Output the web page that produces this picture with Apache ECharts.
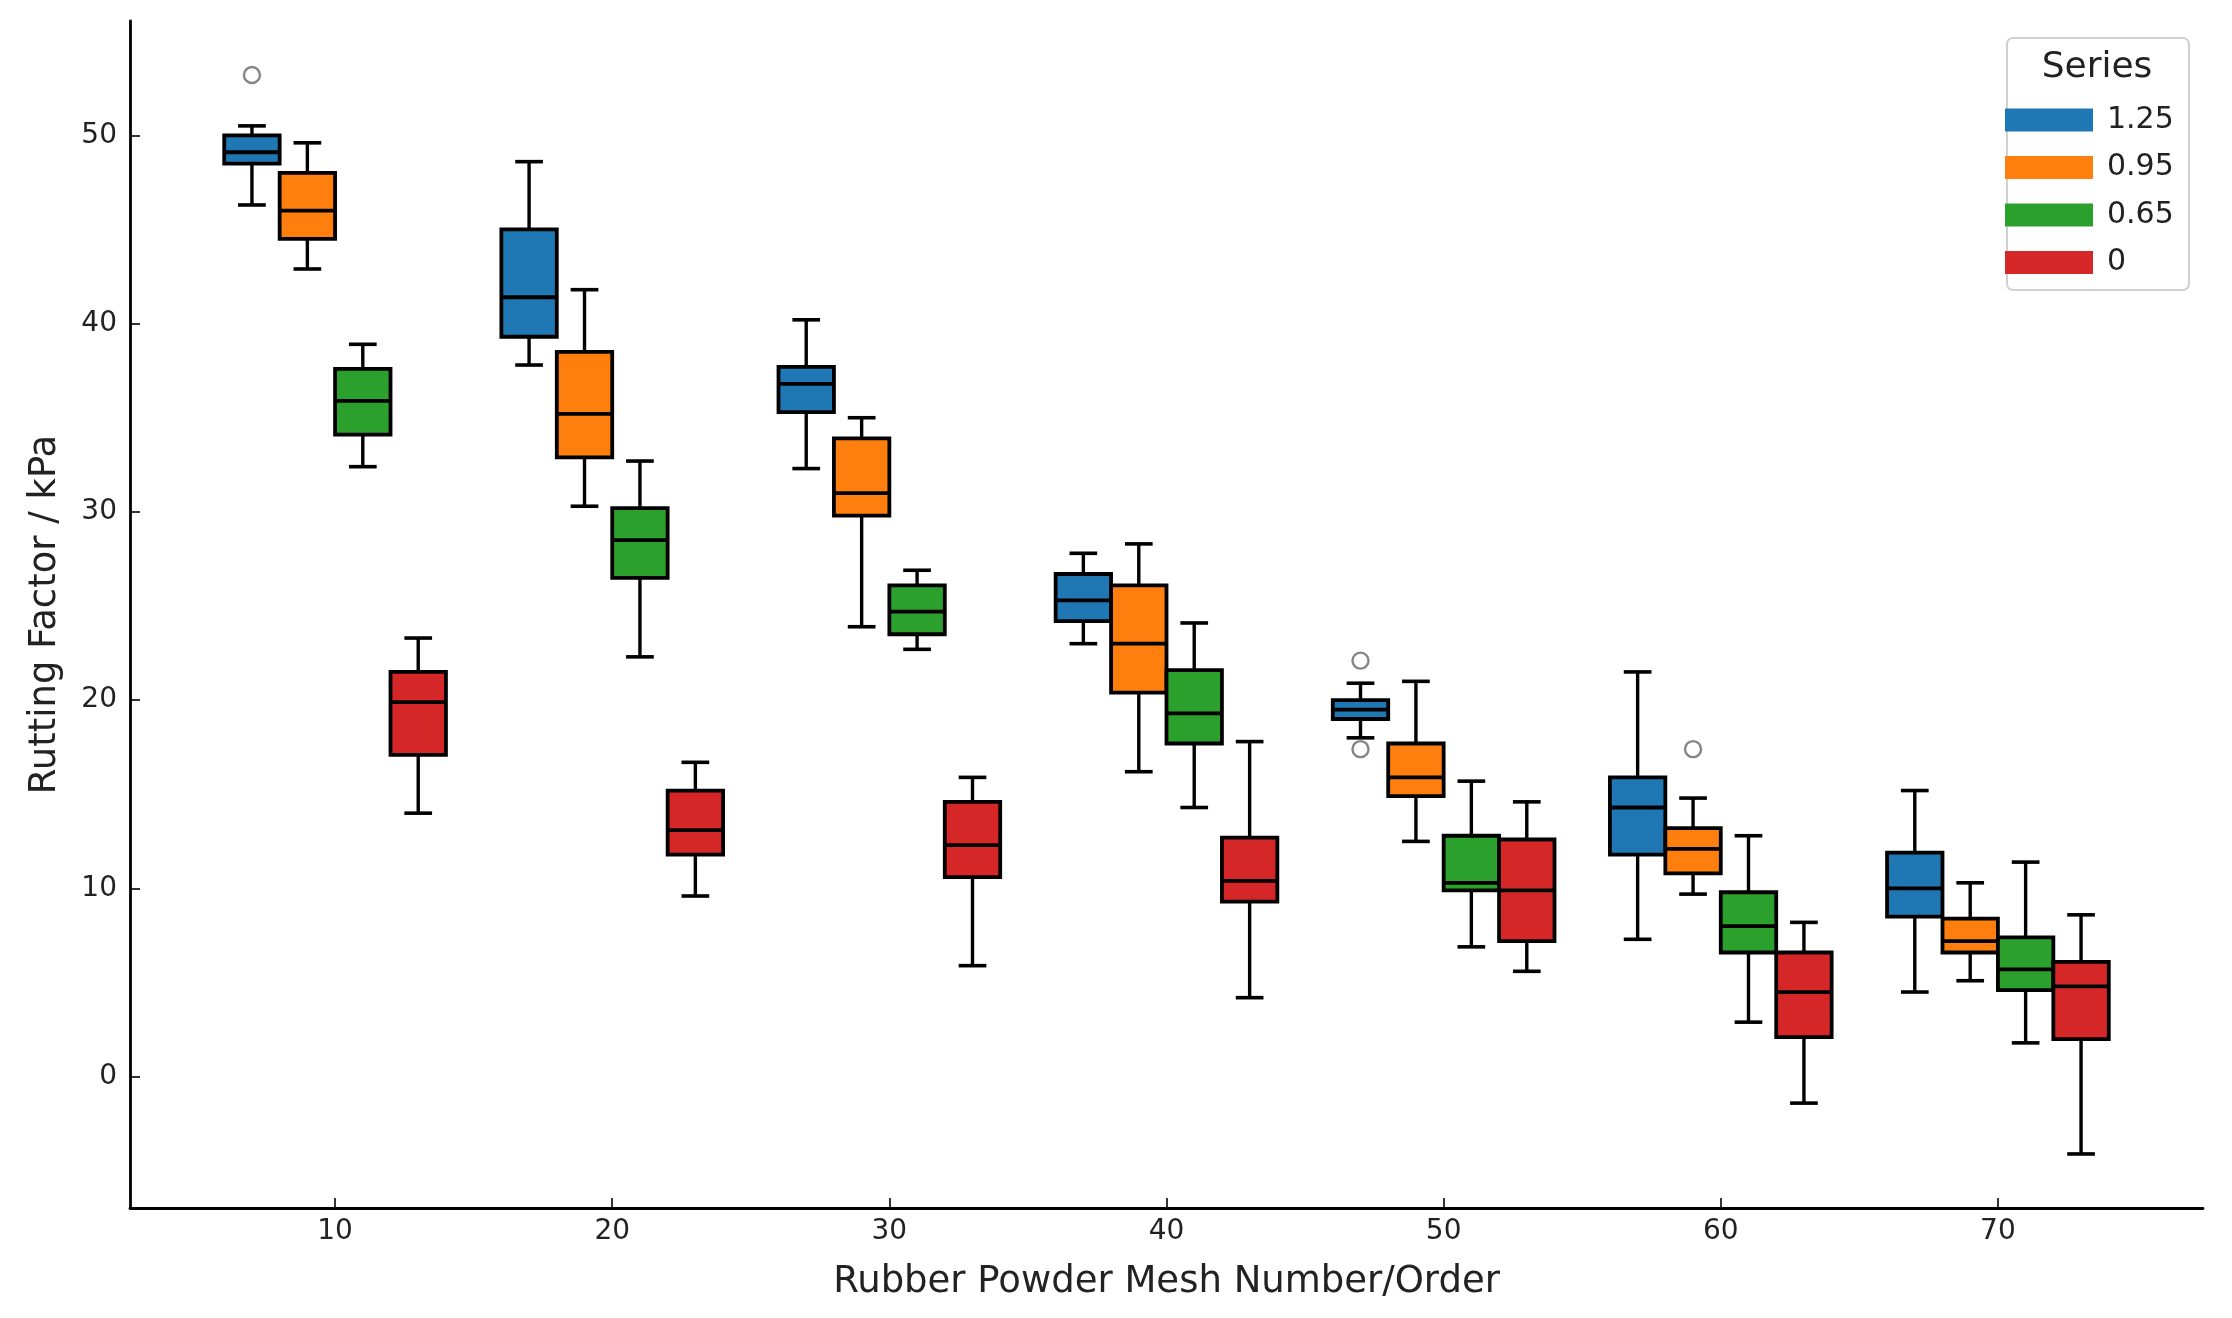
<!DOCTYPE html>
<html>
<head>
<meta charset="utf-8">
<script src="https://cdn.jsdelivr.net/npm/echarts@6/dist/echarts.min.js"></script>
<style>
html,body{margin:0;padding:0;background:#fff;}
#chart{width:2232px;height:1318px;}
</style>
</head>
<body>
<div id="chart"></div>
<script>
// ---- data ----
const groups = [10, 20, 30, 40, 50, 60, 70];
const seriesNames = ['1.25', '0.95', '0.65', '0'];
const xTicks = [10, 20, 30, 40, 50, 60, 70];
const yTicks = [0, 10, 20, 30, 40, 50];
// each row: [lower whisker, Q1, median, Q3, upper whisker]
const stats125 = [[46.3,48.5,49.1,50.0,50.5],[37.8,39.3,41.4,45.0,48.6],[32.3,35.3,36.8,37.7,40.2],[23.0,24.2,25.3,26.7,27.8],[18.0,19.0,19.5,20.0,20.9],[7.3,11.8,14.3,15.9,21.5],[4.5,8.5,10.0,11.9,15.2]];
const stats095 = [[42.9,44.5,46.0,48.0,49.6],[30.3,32.9,35.2,38.5,41.8],[23.9,29.8,31.0,33.9,35.0],[16.2,20.4,23.0,26.1,28.3],[12.5,14.9,15.9,17.7,21.0],[9.7,10.8,12.1,13.2,14.8],[5.1,6.6,7.2,8.4,10.3]];
const stats065 = [[32.4,34.1,35.9,37.6,38.9],[22.3,26.5,28.5,30.2,32.7],[22.7,23.5,24.7,26.1,26.9],[14.3,17.7,19.3,21.6,24.1],[6.9,9.9,10.3,12.8,15.7],[2.9,6.6,8.0,9.8,12.8],[1.8,4.6,5.7,7.4,11.4]];
const stats0 = [[14.0,17.1,19.9,21.5,23.3],[9.6,11.8,13.1,15.2,16.7],[5.9,10.6,12.3,14.6,15.9],[4.2,9.3,10.4,12.7,17.8],[5.6,7.2,9.9,12.6,14.6],[-1.4,2.1,4.5,6.6,8.2],[-4.1,2.0,4.8,6.1,8.6]];
// outliers: [group, value]
const outliers125 = [[10, 53.2], [50, 22.1], [50, 17.4]];
const outliers095 = [[60, 17.4]];
const outliers065 = [];
const outliers0 = [];

// ---- layout / style ----
const colors = ['#1f77b4', '#ff7f0e', '#2ca02c', '#d62728'];
const offsets = [-3, -1, 1, 3];
const BOX_HALF = 1.0;
const CAP_HALF = 0.5;
const allStats = [stats125, stats095, stats065, stats0];
const allOutliers = [outliers125, outliers095, outliers065, outliers0];
const FONT = 'DejaVu Sans';

function renderBox(params, api) {
  const x = api.value(0);
  const lo = api.value(1), q1 = api.value(2), med = api.value(3), q3 = api.value(4), hi = api.value(5);
  const color = api.visual('color');
  const line = (a, b, w) => ({
    type: 'line',
    shape: { x1: a[0], y1: a[1], x2: b[0], y2: b[1] },
    style: { stroke: '#000', lineWidth: w }
  });
  const tl = api.coord([x - BOX_HALF, q3]);
  const br = api.coord([x + BOX_HALF, q1]);
  return {
    type: 'group',
    children: [
      line(api.coord([x, hi]), api.coord([x, q3]), 3.4),
      line(api.coord([x, lo]), api.coord([x, q1]), 3.4),
      line(api.coord([x - CAP_HALF, hi]), api.coord([x + CAP_HALF, hi]), 3.6),
      line(api.coord([x - CAP_HALF, lo]), api.coord([x + CAP_HALF, lo]), 3.6),
      {
        type: 'rect',
        shape: { x: tl[0], y: tl[1], width: br[0] - tl[0], height: br[1] - tl[1] },
        style: { fill: color, stroke: '#000', lineWidth: 3.8 }
      },
      line(api.coord([x - BOX_HALF, med]), api.coord([x + BOX_HALF, med]), 3.8)
    ]
  };
}

const series = [];
seriesNames.forEach((name, i) => {
  series.push({
    name: name,
    type: 'custom',
    renderItem: renderBox,
    itemStyle: { color: colors[i] },
    encode: { x: 0, y: [1, 2, 3, 4, 5] },
    data: allStats[i].map((s, g) => [groups[g] + offsets[i]].concat(s)),
    z: 2
  });
});
const outlierData = [];
allOutliers.forEach((arr, i) => arr.forEach(o => outlierData.push([o[0] + offsets[i], o[1]])));
series.push({
  name: 'outliers',
  type: 'scatter',
  symbol: 'circle',
  symbolSize: 16,
  itemStyle: { color: 'rgba(255,255,255,0)', borderColor: '#666', borderWidth: 2.4 },
  data: outlierData,
  z: 3
});

const chart = echarts.init(document.getElementById('chart'), null, { renderer: 'canvas' });
chart.setOption({
  animation: false,
  backgroundColor: '#fff',
  grid: { left: 130, top: 21, width: 2073, height: 1187, containLabel: false },
  xAxis: {
    type: 'value',
    min: 2.6,
    max: 77.4,
    name: 'Rubber Powder Mesh Number/Order',
    nameLocation: 'middle',
    nameGap: 56,
    nameTextStyle: { fontFamily: FONT, fontSize: 37, color: '#222' },
    splitLine: { show: false },
    axisLine: { show: true, onZero: false, lineStyle: { color: '#000', width: 2.8 } },
    axisTick: { show: true, inside: true, length: 10, lineStyle: { color: '#000', width: 1.6 }, customValues: xTicks },
    axisLabel: { fontFamily: FONT, fontSize: 28, color: '#222', margin: 10, customValues: xTicks }
  },
  yAxis: {
    type: 'value',
    min: -6.97,
    max: 56.07,
    name: 'Rutting Factor / kPa',
    nameLocation: 'middle',
    nameGap: 66,
    nameTextStyle: { fontFamily: FONT, fontSize: 37, color: '#222' },
    splitLine: { show: false },
    axisLine: { show: true, onZero: false, lineStyle: { color: '#000', width: 2.8 } },
    axisTick: { show: true, inside: true, length: 10, lineStyle: { color: '#000', width: 1.6 }, customValues: yTicks },
    axisLabel: { fontFamily: FONT, fontSize: 28, color: '#222', margin: 13, customValues: yTicks }
  },
  legend: {
    data: seriesNames,
    orient: 'vertical',
    left: 2005,
    top: 105,
    padding: 0,
    icon: 'rect',
    itemWidth: 88,
    itemHeight: 23,
    itemGap: 17.5,
    itemStyle: { borderWidth: 0 },
    textStyle: { fontFamily: FONT, fontSize: 30, color: '#222', lineHeight: 23, padding: [0, 0, 0, 9] }
  },
  graphic: [
    {
      type: 'rect',
      left: 2006, top: 37,
      shape: { width: 182, height: 252, r: 6 },
      style: { fill: 'rgba(255,255,255,0.8)', stroke: '#d0d0d0', lineWidth: 2 },
      z: -1
    },
    {
      type: 'text',
      x: 2097, y: 68,
      style: { text: 'Series', fontFamily: FONT, fontSize: 36, fill: '#222', align: 'center', verticalAlign: 'middle' },
      z: 10
    }
  ],
  series: series
});
</script>
</body>
</html>
